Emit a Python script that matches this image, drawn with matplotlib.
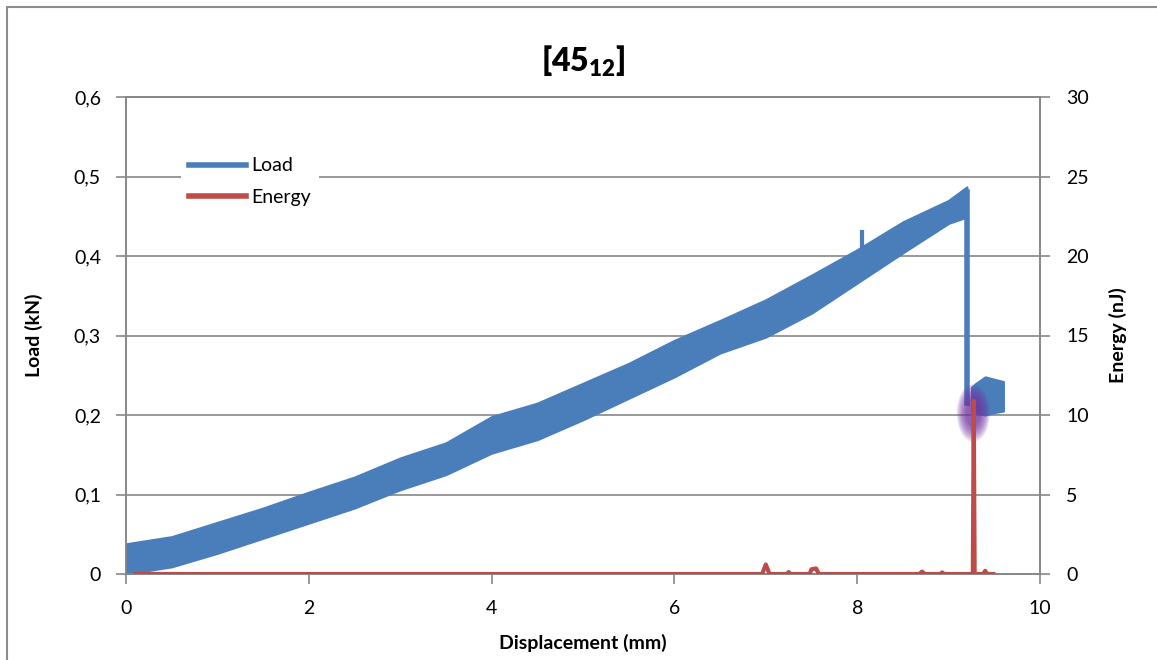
import numpy as np
import matplotlib.pyplot as plt
from matplotlib.lines import Line2D
from matplotlib.patches import Ellipse, Rectangle

plt.rcParams['font.family'] = ['Lato', 'DejaVu Sans']
plt.rcParams['mathtext.fontset'] = 'custom'
plt.rcParams['mathtext.rm'] = 'Lato'
plt.rcParams['mathtext.bf'] = 'Lato:heavy'

# Load band (noisy signal), read as lower/upper envelope, kN
load_x = [0.0, 0.5, 1.0, 1.5, 2.0, 2.5, 3.0, 3.5, 4.0, 4.5, 5.0, 5.5,
          6.0, 6.5, 7.0, 7.5, 8.0, 8.5, 9.0, 9.2]
load_upper = [0.038, 0.047, 0.065, 0.083, 0.103, 0.122, 0.146, 0.165, 0.198, 0.215,
              0.240, 0.265, 0.294, 0.319, 0.345, 0.376, 0.408, 0.443, 0.470, 0.487]
load_lower = [0.000, 0.009, 0.026, 0.045, 0.064, 0.083, 0.106, 0.125, 0.152, 0.169,
              0.194, 0.221, 0.248, 0.278, 0.298, 0.328, 0.366, 0.404, 0.441, 0.449]

# failure drop and post-failure band
drop_x = [9.205, 9.205]
drop_load = [0.480, 0.215]
post_x = [9.25, 9.30, 9.40, 9.50, 9.60]
post_upper = [0.235, 0.240, 0.248, 0.245, 0.242]
post_lower = [0.205, 0.203, 0.200, 0.203, 0.205]

# spike at x ~ 8.05
spike_x = [8.05, 8.05]
spike_load = [0.400, 0.430]

# Energy, nJ
energy_x = [0.10, 6.96, 7.00, 7.04, 7.23, 7.25, 7.27, 7.48, 7.50, 7.55, 7.58,
            8.68, 8.71, 8.74, 8.91, 8.93, 8.95, 9.265, 9.275, 9.285,
            9.38, 9.40, 9.42, 9.49]
energy_y = [0.0, 0.0, 0.6, 0.0, 0.0, 0.12, 0.0, 0.0, 0.3, 0.35, 0.0,
            0.0, 0.15, 0.0, 0.0, 0.1, 0.0, 0.0, 10.9, 0.0,
            0.0, 0.2, 0.0, 0.0]

highlight_x, highlight_load = 9.27, 0.2025

blue = '#4A7EBB'
red = '#BE4B48'
grid_c = '#878787'

fig = plt.figure(figsize=(11.57, 6.6), dpi=100)
fig.patches.append(Rectangle((7 / 1157, -0.1), 1.2, (660 - 7) / 660 + 0.1,
                             transform=fig.transFigure, fill=False,
                             edgecolor='#8c8c8c', linewidth=1.5))
ax = fig.add_axes([126 / 1157, 86 / 660, 914 / 1157, 477 / 660])
ax2 = ax.twinx()

ax.fill_between(load_x, load_lower, load_upper, color=blue, linewidth=1.5,
                edgecolor=blue, zorder=3)
ax.plot(drop_x, drop_load, color=blue, linewidth=4, zorder=3)
ax.fill_between(post_x, post_lower, post_upper, color=blue, linewidth=1.5,
                edgecolor=blue, zorder=3)
ax.plot(spike_x, spike_load, color=blue, linewidth=3, zorder=3)

# purple highlight glow
for k in np.linspace(1.0, 0.45, 8):
    ax.add_patch(Ellipse((highlight_x, highlight_load), 0.36 * k, 0.072 * k,
                         color='#7030A0', alpha=0.16, linewidth=0, zorder=4))

ax2.plot(energy_x, energy_y, color=red, linewidth=3, zorder=5)

ax.set_xlim(0, 10)
ax.set_ylim(0, 0.6)
ax2.set_ylim(0, 30)
ax.set_xticks([0, 2, 4, 6, 8, 10])
ax.set_yticks(np.arange(0, 0.61, 0.1))
ax.set_yticklabels(['0', '0,1', '0,2', '0,3', '0,4', '0,5', '0,6'])
ax2.set_yticks([0, 5, 10, 15, 20, 25, 30])

ax.grid(axis='y', color=grid_c, linewidth=1.2)
ax.set_axisbelow(True)
for a in (ax, ax2):
    for s in a.spines.values():
        s.set_color(grid_c)
        s.set_linewidth(1.2)
ax.tick_params(axis='both', direction='out', length=7, width=1.2,
               color=grid_c, labelsize=14, labelcolor='black')
ax.tick_params(axis='y', pad=11)
ax.tick_params(axis='x', pad=12)
ax2.tick_params(axis='y', direction='out', length=7, width=1.2,
                color=grid_c, labelsize=14, pad=12)

ax.set_xlabel('Displacement (mm)', fontsize=14, fontweight='bold', labelpad=12)
ax.set_ylabel('Load (kN)', fontsize=14, fontweight='bold', labelpad=22)
ax2.set_ylabel('Energy (nJ)', fontsize=14, fontweight='bold', labelpad=14)
ax.set_title(r'[45$_{\mathbf{12}}$]', fontsize=23, fontweight='heavy', pad=18)

handles = [Line2D([], [], color=blue, linewidth=4),
           Line2D([], [], color=red, linewidth=4)]
leg = ax2.legend(handles, ['Load', 'Energy'], loc='upper left',
                 bbox_to_anchor=(0.05, 0.91), fontsize=14, handlelength=2.9,
                 handletextpad=0.3, labelspacing=0.75, frameon=True,
                 framealpha=1, edgecolor='none', facecolor='white',
                 borderpad=0.4, fancybox=False)

fig.savefig('out.png', dpi=100)
